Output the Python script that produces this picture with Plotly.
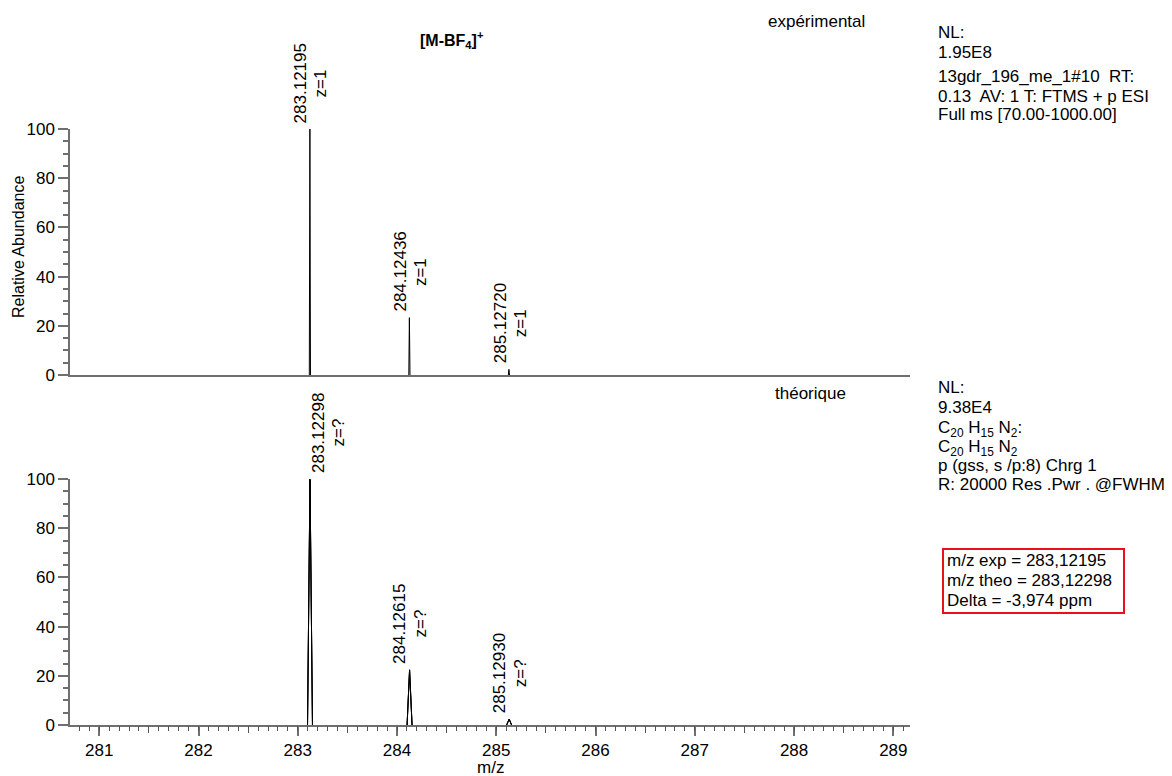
import plotly.graph_objects as go

# Isotope pattern of [M-BF4]+ : measured vs. simulated
exp_mz = [283.12195, 284.12436, 285.12720]
exp_int = [100.0, 23.3, 2.3]
exp_z = ["z=1", "z=1", "z=1"]

theo_mz = [283.12298, 284.12615, 285.12930]
theo_int = [100.0, 22.4, 2.4]
theo_z = ["z=?", "z=?", "z=?"]

x_range = [280.705, 289.168]
y_ticks = [0, 20, 40, 60, 80, 100]

header_exp = ["NL:", "1.95E8", "13gdr_196_me_1#10  RT:",
              "0.13  AV: 1 T: FTMS + p ESI", "Full ms [70.00-1000.00]"]
header_theo = ["NL:", "9.38E4", "C<sub>20</sub> H<sub>15</sub> N<sub>2</sub>:",
               "C<sub>20</sub> H<sub>15</sub> N<sub>2</sub>",
               "p (gss, s /p:8) Chrg 1", "R: 20000 Res .Pwr . @FWHM"]
box_lines = ["m/z exp = 283,12195", "m/z theo = 283,12298", "Delta = -3,974 ppm"]

FONT = "Liberation Sans, Arial, sans-serif"
AXIS = "#6f6f6f"
W, H = 1172, 776


def px(y):
    return 1 - y / H


def peak_path(mz, inten, half):
    xs, ys = [], []
    for m, h in zip(mz, inten):
        xs += [m - half, m, m + half, None]
        ys += [0, h, 0, None]
    return xs, ys


fig = go.Figure()

ex, ey = peak_path(exp_mz, exp_int, 0.006)
fig.add_trace(go.Scatter(x=ex, y=ey, mode="lines", xaxis="x", yaxis="y",
                         line=dict(color="black", width=1), hoverinfo="skip",
                         showlegend=False))
tx, ty = peak_path(theo_mz, theo_int, 0.025)
for xa in ["x2", "x3", "x4"]:
    # same data on the overlay axes that carry the finer tick levels
    fig.add_trace(go.Scatter(x=tx, y=ty, mode="lines", xaxis=xa, yaxis="y2",
                             line=dict(color="black", width=1), hoverinfo="skip",
                             showlegend=False))

xdom = [70 / W, 910 / W]
common_y = dict(range=[0, 100], tickvals=y_ticks, ticks="outside", ticklen=10,
                tickcolor=AXIS, tickwidth=1.5, showline=True, linecolor=AXIS,
                linewidth=1.5, showgrid=False, zeroline=False, automargin=False,
                minor=dict(dtick=5, ticks="outside", ticklen=5, tickcolor=AXIS,
                           tickwidth=1.5, showgrid=False),
                tickfont=dict(family=FONT, size=17, color="black"), fixedrange=True)

tick_axis = dict(domain=xdom, range=x_range, anchor="y2", overlaying="x2",
                 side="bottom", showline=False, tickmode="linear", ticks="outside",
                 tickcolor="#555555", tickwidth=1, showticklabels=False,
                 showgrid=False, zeroline=False, automargin=False)

fig.update_layout(
    width=W, height=H,
    margin=dict(l=0, r=0, t=0, b=0),
    paper_bgcolor="white", plot_bgcolor="white",
    template="none",
    font=dict(family=FONT, size=17, color="black"),
    xaxis=dict(domain=xdom, range=x_range, anchor="y", showline=True, linecolor=AXIS,
               linewidth=1.5, ticks="", showticklabels=False, showgrid=False,
               zeroline=False, automargin=False),
    yaxis=dict(domain=[px(375), px(129)], anchor="x", **common_y),
    xaxis2=dict(domain=xdom, range=x_range, anchor="y2", showline=True, linecolor=AXIS,
                linewidth=1.5, tickmode="linear", tick0=281, dtick=1, ticks="outside",
                ticklen=9, tickcolor=AXIS, tickwidth=1.5, showgrid=False,
                zeroline=False, automargin=False,
                tickfont=dict(family=FONT, size=17, color="black")),
    xaxis3=dict(tick0=281.5, dtick=1, ticklen=6.5, **tick_axis),
    xaxis4=dict(tick0=281.0, dtick=0.1, ticklen=4.5, **tick_axis),
    yaxis2=dict(domain=[px(725), px(479)], anchor="x2", **common_y),
)

ann = []


def label_peaks(mz, inten, zs, xr, yr, offsets):
    for m, h, z, (dn, dz) in zip(mz, inten, zs, offsets):
        ann.append(dict(x=m, y=h, xref=xr, yref=yr, text=f"{m:.5f}", textangle=-90,
                        showarrow=False, xanchor="center", yanchor="middle",
                        xshift=dn, yshift=46, font=dict(size=17)))
        ann.append(dict(x=m, y=h, xref=xr, yref=yr, text=z, textangle=-90,
                        showarrow=False, xanchor="center", yanchor="middle",
                        xshift=dz, yshift=46, font=dict(size=17)))


label_peaks(exp_mz, exp_int, exp_z, "x", "y", [(-8.5, 11.5), (-8.5, 11), (-9, 11)])
label_peaks(theo_mz, theo_int, theo_z, "x2", "y2", [(8, 27.5), (-9.5, 11), (-10, 11)])

# green leader from the theoretical base peak to its label
fig.add_shape(type="line", xref="x2", yref="y2",
              x0=theo_mz[0], y0=theo_int[0],
              x1=theo_mz[0] + 0.185, y1=theo_int[0] + 1.4,
              line=dict(color="#7cc47c", width=1))

ann.append(dict(x=452 / W, y=px(40), xref="paper", yref="paper",
                text="<b>[M-BF<sub>4</sub>]<sup>+</sup></b>", showarrow=False,
                xanchor="center", yanchor="middle", font=dict(size=16)))
ann.append(dict(x=816 / W, y=px(21), xref="paper", yref="paper", text="expérimental",
                showarrow=False, xanchor="center", yanchor="middle", font=dict(size=17)))
ann.append(dict(x=810 / W, y=px(393), xref="paper", yref="paper", text="théorique",
                showarrow=False, xanchor="center", yanchor="middle", font=dict(size=17)))

for txt, yy in zip(header_exp, [32.5, 53, 77, 96, 114.5]):
    ann.append(dict(x=936 / W, y=px(yy), xref="paper", yref="paper", text=txt,
                    showarrow=False, xanchor="left", yanchor="middle",
                    font=dict(size=17)))
for txt, yy in zip(header_theo, [387, 407.5, 429, 448, 465, 484]):
    ann.append(dict(x=936 / W, y=px(yy), xref="paper", yref="paper", text=txt,
                    showarrow=False, xanchor="left", yanchor="middle",
                    font=dict(size=17)))
for txt, yy in zip(box_lines, [560, 580, 600]):
    ann.append(dict(x=945 / W, y=px(yy), xref="paper", yref="paper", text=txt,
                    showarrow=False, xanchor="left", yanchor="middle",
                    font=dict(size=17)))
fig.add_shape(type="rect", xref="paper", yref="paper",
              x0=943 / W, x1=1124 / W, y0=px(613), y1=px(549),
              line=dict(color="#e8101a", width=2))

ann.append(dict(x=19 / W, y=px(247), xref="paper", yref="paper",
                text="Relative Abundance", textangle=-90, showarrow=False,
                xanchor="center", yanchor="middle", font=dict(size=16)))
ann.append(dict(x=490 / W, y=px(767), xref="paper", yref="paper", text="m/z",
                showarrow=False, xanchor="center", yanchor="middle",
                font=dict(size=17)))

fig.update_layout(annotations=ann)
fig.write_html("out.html")
